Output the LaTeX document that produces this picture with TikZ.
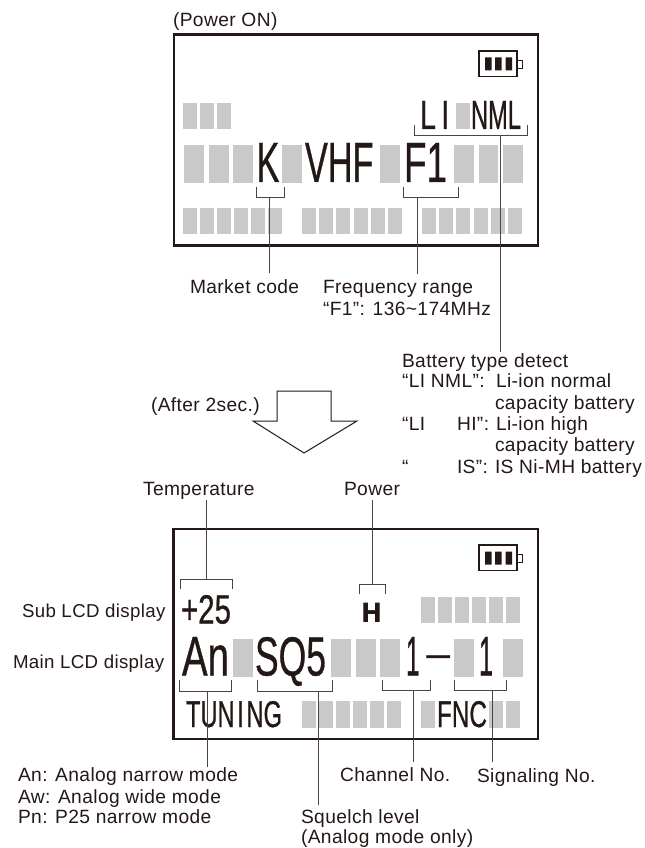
\documentclass[tikz,border=0pt]{standalone}
\usepackage{fontspec}
\setmainfont{Liberation Sans}
\newfontfamily\labfont[LetterSpace=2]{Liberation Sans}
\newfontfamily\lcdfont[FakeBold=0.8]{Liberation Sans}
\newfontfamily\lcdheavy[FakeBold=2.5]{Liberation Sans Bold}
\definecolor{ink}{HTML}{231815}
\definecolor{seg}{HTML}{C9C9C9}
\definecolor{wire}{HTML}{4A4443}
\tikzset{
  x=0.75pt,y=-0.75pt,
  lab/.style={anchor=base west,inner sep=0pt,outer sep=0pt,text=ink,font=\labfont\fontsize{14.4}{16}\selectfont},
  labs/.style={lab,font=\labfont\fontsize{14}{16}\selectfont},
  lcd/.style={anchor=south west,inner sep=0pt,outer sep=0pt,text=ink,font=\lcdfont},
  screen/.style={draw=ink,line width=1.6pt},
  wirel/.style={draw=wire,line width=0.75pt},
  brk/.style={draw=wire,line width=0.7pt},
  segf/.style={fill=seg,draw=none}
}
% horizontal run of grey segments: y1,y2,width,list of left edges
\newcommand{\segs}[4]{\foreach \xx in {#4}{\fill[segf] (\xx,#1) rectangle ++(#3,#2-#1);}}
% LCD text fitted to a box: name, x1, y-top, x2, y-bottom, text
\newcommand{\lcdtxt}[6]{\pgfmathsetmacro{\myw}{(#4-#2)*0.75}\pgfmathsetmacro{\myh}{(#5-#3)*0.75}%
  \node[lcd] (#1) at (#2,#5) {\resizebox{\myw pt}{\myh pt}{\raisebox{0pt}[\height][0pt]{#6}}};}
% bracket: name, x1, x2, y of tips, y of bar, x of stem
\newcommand{\brkt}[6]{\draw[brk] (#2,#4) -- (#2,#5) -- (#3,#5) -- (#3,#4);\coordinate (#1) at (#6,#5);}
\newcommand{\batt}[1]{\begin{scope}[yshift=-#1*0.75pt]
  \draw[draw=ink,line width=0.9pt] (479,51) rectangle (517,76.5);
  \draw[draw=ink,line width=0.6pt] (517,60) rectangle (522,68);
  \fill[ink] (485,57.5) rectangle (491.5,70.5) (495,57.5) rectangle (501.5,70.5) (505.5,57.5) rectangle (512,70.5);
  \end{scope}}
\begin{document}
\begin{tikzpicture}
\useasboundingbox (0,0) rectangle (644,848);
%--- first screen
\node[lab] (pon) at (173,27) {(Power ON)};
\draw[screen] (174,34.5) rectangle (538,245.5);
\batt{0}
\segs{103}{129}{14}{183.3,200.3,217.3}
\segs{145}{183}{19.5}{184.3,209,233.3,282.3,380,454.3,478.7,503.3}
\segs{208}{234}{14}{183.3,200.3,217.3,234.3,251.3,268.3,302.3,319.3,336.3,354,371,388.3,422.3,439.3,456.3,473.7,490.7,508}
\lcdtxt{tK}{256.5}{143}{279.5}{182}{K}
\lcdtxt{tVHF}{305}{143}{373.5}{182}{VHF}
\lcdtxt{tFo}{404}{143}{447}{182}{F1}
\lcdtxt{tLI}{420}{101}{436}{129}{L}
\lcdtxt{tLIb}{441.5}{101}{449}{129}{I}
\segs{103}{129}{14}{456.3}
\lcdtxt{tNML}{471}{101}{521}{129}{NML}
\brkt{bK}{256}{284}{187}{197.5}{269}
\brkt{bF}{403}{458}{187}{197.5}{417}
\brkt{bB}{414}{527}{125}{135.5}{500}
\coordinate (eK) at (269,273);
\coordinate (eF) at (417,274);
\coordinate (eB) at (500,352);
\draw[wirel] (bK) -- (eK);
\draw[wirel] (bF) -- (eF);
\draw[wirel] (bB) -- (eB);
\node[lab] (lK) at (190,293) {Market code};
\node[lab] (lF) at (323,293) {Frequency range};
\node[lab] (lFb) at (323,315) {“F1”: 136\char"007E 174MHz};
\node[lab] (lB) at (402,367) {Battery type detect};
\node[lab] (lBa) at (402,387) {“LI NML”:};
\node[lab] (lBb) at (496,387) {Li-ion normal};
\node[lab] (lBc) at (495,409) {capacity battery};
\node[lab] (lBd) at (402,430) {“LI};
\node[lab] (lBe) at (457,430) {HI”:};
\node[lab] (lBf) at (496,430) {Li-ion high};
\node[lab] (lBg) at (495,451) {capacity battery};
\node[lab] (lBh) at (402,473) {“};
\node[lab] (lBi) at (457,473) {IS”:};
\node[lab] (lBj) at (495,473) {IS Ni-MH battery};
%--- arrow
\node[lab] (after) at (151,411) {(After 2sec.)};
\draw[draw=ink,line width=0.75pt,line join=miter] (277,391) -- (331,391) -- (331,421) -- (357,421) -- (304,453) -- (253,421) -- (277,421) -- cycle;
%--- second screen
\node[lab] (lT) at (143,495) {Temperature};
\node[lab] (lP) at (344,495) {Power};
\coordinate (sT) at (206,500);
\coordinate (sP) at (372,500);
\draw[screen] (173.5,529) rectangle (538,739);
\batt{494}
\brkt{bT}{180}{232}{589}{579}{206}
\brkt{bP}{359}{385}{594}{584}{372}
\draw[wirel] (sT) -- (bT);
\draw[wirel] (sP) -- (bP);
\lcdtxt{tT}{181}{595}{231}{623.5}{+25}
\lcdtxt{tH}{362}{603}{381}{621.5}{\lcdheavy H}
\segs{597}{623}{14}{421,438,455,472,489,506}
\segs{639}{677}{19.5}{233,331.3,356,380,454.3,503.3}
\lcdtxt{tAn}{182}{637}{229}{675.5}{An}
\lcdtxt{tSQ}{255}{637}{326}{675.5}{SQ5}
\lcdtxt{tOne}{406}{637}{419.5}{675.5}{1}
\lcdtxt{tDash}{422.5}{655.5}{454}{665}{-}
\lcdtxt{tOneb}{479}{637}{493}{675.5}{1}
\segs{701}{728}{14}{302.3,319.3,336.3,353.3,370.3,387.3,421,489,506}
\lcdtxt{tTU}{186}{701}{282}{727}{TUN\makebox[.5em]{I}NG}
\lcdtxt{tFNC}{437}{701}{487}{727}{FNC}
\node[labs] (sl) at (22,617) {Sub LCD display};
\node[labs] (ml) at (13,668) {Main LCD display};
\brkt{bA}{179}{231}{680}{691}{207}
\brkt{bS}{257}{332}{680}{691}{318}
\brkt{bC}{382}{430}{680}{690}{413}
\brkt{bN}{454}{506}{680}{690}{492}
\coordinate (eA) at (207,767);
\coordinate (eS) at (318,805);
\coordinate (eC) at (413,762);
\coordinate (eN) at (492,762);
\draw[wirel] (bA) -- (eA);
\draw[wirel] (bS) -- (eS);
\draw[wirel] (bC) -- (eC);
\draw[wirel] (bN) -- (eN);
\node[lab] (la) at (18,781) {An: Analog narrow mode};
\node[lab] (lb) at (18,803) {Aw: Analog wide mode};
\node[lab] (lc) at (18,823) {Pn: P25 narrow mode};
\node[lab] (lC) at (340,781) {Channel No.};
\node[lab] (lN) at (477,782) {Signaling No.};
\node[lab] (lS) at (301,823) {Squelch level};
\node[lab] (lSb) at (301,843) {(Analog mode only)};
\end{tikzpicture}
\end{document}
